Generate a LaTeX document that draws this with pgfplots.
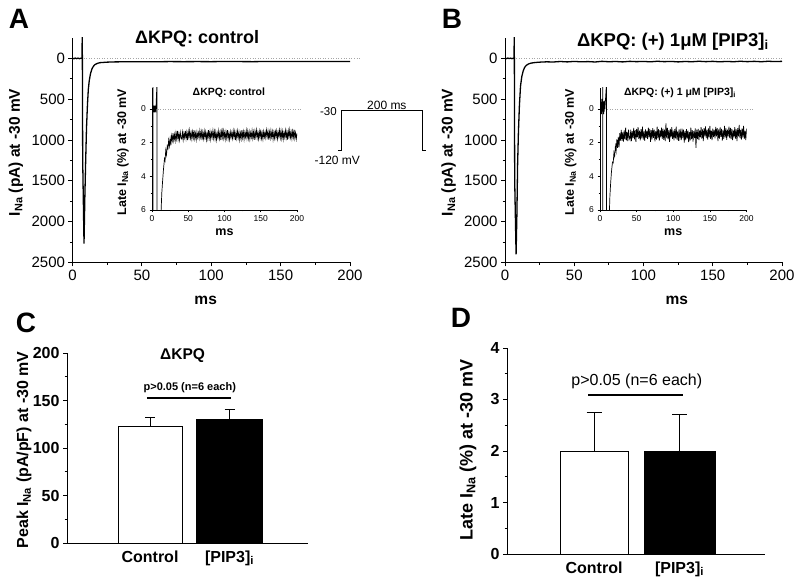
\documentclass[border=0pt]{standalone}
\usepackage{fontspec}
\setmainfont{Liberation Sans}
\usepackage{pgfplots}
\pgfplotsset{compat=1.18}
\pgfplotsset{
  base/.style={
    /pgf/number format/assume math mode=true,
    scale only axis, anchor=south west,
    axis lines=left, axis line style={-, line width=0.8pt, black},
    tick align=outside, major tick length=4pt, minor tick length=2.5pt,
    tick style={line width=0.8pt, black},
    enlargelimits=false, clip mode=individual,
  },
  mainax/.style={base,
    xmin=0, xmax=200, ymin=-2500, ymax=250,
    xtick={0,50,...,200}, minor x tick num=1,
    ytick={-2500,-2000,-1500,-1000,-500,0},
    yticklabels={2500,2000,1500,1000,500,0}, minor y tick num=1,
    tick label style={font=\fontsize{15}{17}\selectfont},
    label style={font=\bfseries\fontsize{15.5}{17}\selectfont},
    xlabel={ms}, ylabel={I\textsubscript{Na} (pA) at -30 mV},
    ylabel style={at={(axis description cs:-0.204,0.49)}, anchor=center},
  },
  insetax/.style={base,
    xmin=0, xmax=200, ymin=-6, ymax=1.25,
    xtick={0,50,...,200}, minor x tick num=1,
    ytick={-6,-4,-2,0}, yticklabels={6,4,2,0}, minor y tick num=1,
    major tick length=2.5pt, minor tick length=1.5pt,
    axis line style={-, line width=0.6pt}, tick style={line width=0.6pt, black},
    tick label style={font=\fontsize{8.5}{9.5}\selectfont},
    label style={font=\bfseries\fontsize{12.5}{14}\selectfont},
    xlabel={ms}, ylabel={Late I\textsubscript{Na} (\%) at -30 mV},
    xlabel style={at={(axis description cs:0.5,-0.18)}, anchor=center},
    ylabel style={at={(axis description cs:-0.2,0.475)}, anchor=center},
  },
  barax/.style={base,
    xtick={1,2}, xticklabels={Control,{[PIP3]\textsubscript{i}}},
    major x tick style={draw=none}, minor y tick num=1,
    tick label style={font=\bfseries\fontsize{16}{18}\selectfont},
    label style={font=\bfseries\fontsize{16}{18}\selectfont},
  },
}
\begin{document}
\begin{tikzpicture}
\useasboundingbox (0pt,0pt) rectangle (800pt,587pt);
% panel letters
\node[font=\bfseries\fontsize{28}{30}\selectfont] at (19pt,568pt) {A};
\node[font=\bfseries\fontsize{28}{30}\selectfont] at (452pt,568pt) {B};
\node[font=\bfseries\fontsize{28}{30}\selectfont] at (26pt,264pt) {C};
\node[font=\bfseries\fontsize{28}{30}\selectfont] at (461pt,269pt) {D};

% ---------------- Panel A main
\begin{axis}[mainax, at={(72.5pt,324.6pt)}, width=277.5pt, height=224.4pt,
  xlabel style={at={(axis description cs:0.48,-0.17)}, anchor=center}]
\draw[gray!70, dotted, line width=0.6pt] (axis cs:8,0) -- (axis cs:208,0);
\addplot[black, line width=1.3pt] coordinates {
(0,3)(1,-4)(2,4)(3,-3)(4,3)(5,-4)(6,2)(6.8,0)(7.05,300)(7.35,-1250)(8.3,-2270)(8.9,-1700)(9.5,-1250)(10.1,-850)(10.8,-560)(11.4,-380)(12.1,-270)(13,-185)(14,-130)(15,-98)(16,-78)(18,-60)(20,-52)(25,-46)(30,-43)(40,-41)(50,-40)(60,-41)(70,-39)(80,-40)(90,-39)(100,-40)(110,-38)(120,-39)(130,-40)(140,-38)(150,-39)(160,-38)(170,-39)(180,-37)(190,-38)(200,-38)};
\node[font=\bfseries\fontsize{18}{20}\selectfont] at (axis description cs:0.449,0.995) {ΔKPQ: control};
\end{axis}

% ---------------- Panel A inset
\begin{axis}[insetax, at={(152pt,377pt)}, width=145pt, height=122pt]
\draw[gray!70, dotted, line width=0.5pt] (axis cs:8,0) -- (axis cs:208,0);
\addplot[black, line width=0.7pt] coordinates {
(0,0.15)(0.3,-0.2)(0.6,0.2)(0.9,-0.15)(1.2,0.2)(1.35,1.5)(1.45,-7)(1.55,0.1)(1.9,-0.2)(2.3,0.2)(2.7,-0.18)(3.1,0.15)(3.5,-0.2)(3.9,0.2)(4.3,-0.15)(4.7,0.18)(5.1,-0.2)(5.5,0.1)(6.8,1.5)(6.95,-7)(12.4,-7)(12.6,-6)(13.5,-5.0)(14.5,-4.36)(15.8,-3.6)(17.2,-2.96)
(18,-3.07)(19,-2.44)(20,-2.72)(21,-2.20)(22,-2.35)(23,-1.85)(24,-2.20)(25,-1.76)(26,-2.16)(27,-1.59)(28,-1.88)(29,-1.44)(30,-1.87)(31,-1.52)(32,-1.88)(33,-1.42)(34,-1.77)(35,-1.30)(36,-1.80)(37,-1.48)(38,-1.84)(39,-1.39)(40,-1.71)
(41,-1.78)(42,-1.38)(43,-1.83)(44,-1.44)(45,-1.71)(46,-1.30)(47,-1.75)(48,-1.39)(49,-1.85)(50,-1.34)(51,-1.67)(52,-1.27)(53,-1.73)(54,-1.41)(55,-1.79)(56,-1.35)(57,-1.71)(58,-1.25)(59,-1.76)(60,-1.44)(61,-1.81)(62,-1.36)(63,-1.69)
(64,-1.41)(65,-1.74)(66,-1.29)(67,-1.66)(68,-1.34)(69,-1.85)(70,-1.39)(71,-1.75)(72,-1.31)(73,-1.69)(74,-1.37)(75,-1.83)(76,-1.43)(77,-1.76)(78,-1.25)(79,-1.71)(80,-1.35)(81,-1.80)(82,-1.40)(83,-1.67)(84,-1.28)(85,-1.73)(86,-1.33)
(87,-1.77)(88,-1.37)(89,-1.82)(90,-1.43)(91,-1.70)(92,-1.30)(93,-1.75)(94,-1.39)(95,-1.85)(96,-1.34)(97,-1.67)(98,-1.12)(99,-1.73)(100,-1.41)(101,-1.79)(102,-1.35)(103,-1.71)(104,-1.25)(105,-1.76)(106,-1.44)(107,-1.81)(108,-1.36)(109,-1.69)
(110,-1.41)(111,-1.74)(112,-1.29)(113,-1.66)(114,-1.34)(115,-1.85)(116,-1.39)(117,-1.75)(118,-1.31)(119,-1.69)(120,-1.37)(121,-1.83)(122,-1.43)(123,-1.76)(124,-1.25)(125,-1.71)(126,-1.35)(127,-1.80)(128,-1.40)(129,-1.67)(130,-1.28)(131,-1.73)(132,-1.33)
(133,-1.75)(134,-1.35)(135,-1.80)(136,-1.41)(137,-1.68)(138,-1.28)(139,-1.73)(140,-1.37)(141,-1.83)(142,-1.32)(143,-1.65)(144,-1.25)(145,-1.71)(146,-1.39)(147,-1.77)(148,-1.33)(149,-1.69)(150,-1.23)(151,-1.74)(152,-1.42)(153,-1.79)(154,-1.34)(155,-1.67)
(156,-1.38)(157,-1.71)(158,-1.26)(159,-1.63)(160,-1.31)(161,-1.82)(162,-1.36)(163,-1.72)(164,-1.28)(165,-1.66)(166,-1.34)(167,-1.80)(168,-1.40)(169,-1.73)(170,-1.22)(171,-1.68)(172,-1.32)(173,-1.77)(174,-1.37)(175,-1.64)(176,-1.25)(177,-1.70)(178,-1.30)
(179,-1.74)(180,-1.34)(181,-1.79)(182,-1.40)(183,-1.67)(184,-1.27)(185,-1.72)(186,-1.36)(187,-1.82)(188,-1.31)(189,-1.64)(190,-1.24)(191,-1.70)(192,-1.38)(193,-1.76)(194,-1.32)(195,-1.68)(196,-1.22)(197,-1.73)(198,-1.41)(199,-1.78)(200,-1.45)};
\node[font=\bfseries\fontsize{10.5}{12}\selectfont] at (axis description cs:0.53,0.958) {ΔKPQ: control};
\end{axis}

% ---------------- Voltage protocol
\begin{axis}[base, hide axis, at={(337.7pt,434.1pt)}, width=88.6pt, height=44.4pt,
  xmin=-10, xmax=210, ymin=-125, ymax=-25]
\addplot[black, line width=1.2pt] coordinates {(-9,-120)(0,-120)(0,-30)(200,-30)(200,-120)(209,-120)};
\node[anchor=east, inner sep=0pt, font=\fontsize{11.5}{13}\selectfont] at (axis cs:-12,-32) {-30};
\node[font=\fontsize{12}{14}\selectfont] at (axis cs:112,-17) {200 ms};
\node[font=\fontsize{12}{14}\selectfont] at (axis cs:-11,-141) {-120 mV};
\end{axis}

% ---------------- Panel B main
\begin{axis}[mainax, at={(505pt,324.6pt)}, width=277pt, height=224.4pt,
  xlabel style={at={(axis description cs:0.62,-0.17)}, anchor=center}]
\draw[gray!70, dotted, line width=0.6pt] (axis cs:8,0) -- (axis cs:201,0);
\addplot[black, line width=1.3pt] coordinates {
(0,2)(1,-3)(2,4)(3,-2)(4,3)(5,-3)(6,2)(6.5,0)(6.7,300)(7.0,-1500)(8.0,-2400)(8.6,-1900)(9.1,-1300)(9.7,-900)(10.4,-580)(11.2,-340)(12.1,-225)(13.1,-155)(14.1,-112)(15.3,-86)(17,-68)(19,-57)(22,-50)(26,-45)(30,-42)(35,-44)(40,-38)(45,-43)(50,-37)(55,-42)(60,-39)(65,-44)(70,-36)(75,-41)(80,-38)(85,-43)(90,-36)(95,-40)(100,-37)(105,-42)(110,-35)(115,-40)(120,-37)(125,-43)(130,-38)(135,-41)(140,-35)(145,-40)(150,-36)(155,-42)(160,-37)(165,-41)(170,-35)(175,-40)(180,-36)(185,-41)(190,-35)(195,-39)(200,-36)};
\node[font=\bfseries\fontsize{18.5}{20}\selectfont] at (axis description cs:0.606,0.985) {ΔKPQ: (+) 1μM [PIP3]\textsubscript{i}};
\end{axis}

% ---------------- Panel B inset
\begin{axis}[insetax, at={(600pt,377pt)}, width=146.5pt, height=122pt]
\draw[gray!70, dotted, line width=0.5pt] (axis cs:10,0) -- (axis cs:208,0);
\addplot[black, line width=0.7pt] coordinates {
(0,0.3)(0.4,-0.2)(0.8,0.55)(1.2,-0.1)(1.6,0.4)(2.0,-0.3)(2.4,0.6)(2.8,0)(3.2,0.35)(3.6,-0.25)(3.7,1.5)(3.8,-7)(3.9,0.2)(4.3,-0.2)(4.7,0.45)(5.1,-0.3)(5.5,0.3)(5.9,-0.15)(6.3,0.5)(6.7,0)(8.8,1.5)(9.0,-7)(12.7,-7)(12.9,-6)(13.5,-5.2)(14.3,-4.56)(15.5,-3.8)(17,-3.16)
(18,-3.20)(19,-2.60)(20,-2.80)(21,-2.20)(22,-2.50)(23,-1.80)(24,-2.30)(25,-1.66)(26,-2.27)(27,-1.43)(28,-1.88)(29,-1.24)(30,-1.89)(31,-1.39)(32,-1.94)(33,-1.27)(34,-1.80)(35,-1.10)(36,-1.86)(37,-1.36)(38,-1.91)(39,-1.22)(40,-1.71)
(41,-1.83)(42,-1.23)(43,-1.90)(44,-1.32)(45,-1.73)(46,-1.12)(47,-1.80)(48,-1.26)(49,-1.95)(50,-1.18)(51,-1.68)(52,-1.08)(53,-1.77)(54,-1.29)(55,-1.86)(56,-1.20)(57,-1.74)(58,-1.05)(59,-1.82)(60,-1.33)(61,-1.89)(62,-1.21)(63,-1.71)
(64,-1.29)(65,-1.79)(66,-1.11)(67,-1.67)(68,-1.18)(69,-1.95)(70,-1.26)(71,-1.80)(72,-1.14)(73,-1.71)(74,-1.23)(75,-1.92)(76,-1.32)(77,-1.82)(78,-1.05)(79,-1.74)(80,-1.20)(81,-1.88)(82,-1.27)(83,-1.68)(84,-1.10)(85,-1.77)(86,-1.17)
(87,-1.83)(88,-1.23)(89,-1.90)(90,-0.85)(91,-1.73)(92,-1.12)(93,-1.80)(94,-1.26)(95,-1.95)(96,-1.18)(97,-1.68)(98,-1.08)(99,-1.77)(100,-1.29)(101,-1.86)(102,-1.20)(103,-1.74)(104,-1.05)(105,-1.82)(106,-1.33)(107,-1.89)(108,-1.21)(109,-1.71)
(110,-1.34)(111,-1.84)(112,-1.16)(113,-1.72)(114,-1.23)(115,-2.00)(116,-1.31)(117,-1.85)(118,-1.19)(119,-1.76)(120,-1.28)(121,-1.97)(122,-1.37)(123,-1.87)(124,-1.10)(125,-1.79)(126,-1.25)(127,-1.93)(128,-1.32)(129,-1.73)(130,-1.15)(131,-2.30)(132,-1.22)
(133,-1.78)(134,-1.18)(135,-1.85)(136,-1.27)(137,-1.68)(138,-1.07)(139,-1.75)(140,-1.21)(141,-1.90)(142,-1.13)(143,-1.63)(144,-1.03)(145,-1.72)(146,-1.24)(147,-1.81)(148,-1.15)(149,-1.69)(150,-1.00)(151,-1.77)(152,-1.28)(153,-1.84)(154,-1.16)(155,-1.66)
(156,-1.24)(157,-1.74)(158,-1.06)(159,-1.62)(160,-1.13)(161,-1.90)(162,-1.21)(163,-1.75)(164,-1.09)(165,-1.66)(166,-1.18)(167,-1.87)(168,-1.27)(169,-1.77)(170,-1.00)(171,-1.69)(172,-1.15)(173,-1.83)(174,-1.22)(175,-1.63)(176,-1.05)(177,-1.72)(178,-1.12)
(179,-1.78)(180,-1.18)(181,-1.85)(182,-1.27)(183,-1.68)(184,-1.07)(185,-1.75)(186,-1.21)(187,-1.90)(188,-1.13)(189,-1.63)(190,-0.95)(191,-1.72)(192,-1.24)(193,-1.81)(194,-1.15)(195,-1.69)(196,-1.00)(197,-1.77)(198,-1.28)(199,-1.84)(200,-1.16)};
\node[font=\bfseries\fontsize{10.5}{12}\selectfont] at (axis description cs:0.546,0.958) {ΔKPQ: (+) 1 μM [PIP3]\textsubscript{i}};
\end{axis}

% ---------------- Panel C
\begin{axis}[barax, at={(67pt,44pt)}, width=241pt, height=190pt,
  xmin=-0.044, xmax=2.987, ymin=0, ymax=200, ytick={0,50,...,200},
  ylabel={Peak I\textsubscript{Na} (pA/pF) at -30 mV},
  ylabel style={at={(axis description cs:-0.178,0.49)}, anchor=center}]
\addplot[ybar, bar width=0.805, fill=white, draw=black, line width=1pt,
  error bars/.cd, y dir=plus, y explicit,
  error bar style={line width=1pt, black}, error mark options={rotate=90, mark size=5pt, line width=1pt, black}]
  coordinates {(1,122.5) +- (0,10)};
\addplot[ybar, bar width=0.82, fill=black, draw=black, line width=1pt,
  error bars/.cd, y dir=plus, y explicit,
  error bar style={line width=1pt, black}, error mark options={rotate=90, mark size=5pt, line width=1pt, black}]
  coordinates {(2,129.5) +- (0,11.5)};
\addplot[black, line width=2pt] coordinates {(0.96,152.5) (2.02,152.5)};
\node[font=\bfseries\fontsize{11}{13}\selectfont] at (axis cs:1.5,164) {p>0.05 (n=6 each)};
\node[font=\bfseries\fontsize{15.5}{18}\selectfont] at (axis cs:1.41,197) {ΔKPQ};
\end{axis}

% ---------------- Panel D
\begin{axis}[barax, at={(507pt,33pt)}, width=258pt, height=206pt,
  xmin=-0.018, xmax=3.0, ymin=0, ymax=4, ytick={0,1,2,3,4},
  ylabel={Late I\textsubscript{Na} (\%) at -30 mV},
  label style={font=\bfseries\fontsize{18}{20}\selectfont},
  ylabel style={at={(axis description cs:-0.151,0.505)}, anchor=center}]
\addplot[ybar, bar width=0.795, fill=white, draw=black, line width=1pt,
  error bars/.cd, y dir=plus, y explicit,
  error bar style={line width=1pt, black}, error mark options={rotate=90, mark size=7.5pt, line width=1pt, black}]
  coordinates {(1,2.0) +- (0,0.75)};
\addplot[ybar, bar width=0.83, fill=black, draw=black, line width=1pt,
  error bars/.cd, y dir=plus, y explicit,
  error bar style={line width=1pt, black}, error mark options={rotate=90, mark size=7.5pt, line width=1pt, black}]
  coordinates {(2,1.99) +- (0,0.72)};
\addplot[black, line width=2pt] coordinates {(0.93,3.09) (2.04,3.09)};
\node[font=\fontsize{16}{18}\selectfont] at (axis cs:1.5,3.35) {p>0.05 (n=6 each)};
\end{axis}
\end{tikzpicture}
\end{document}
